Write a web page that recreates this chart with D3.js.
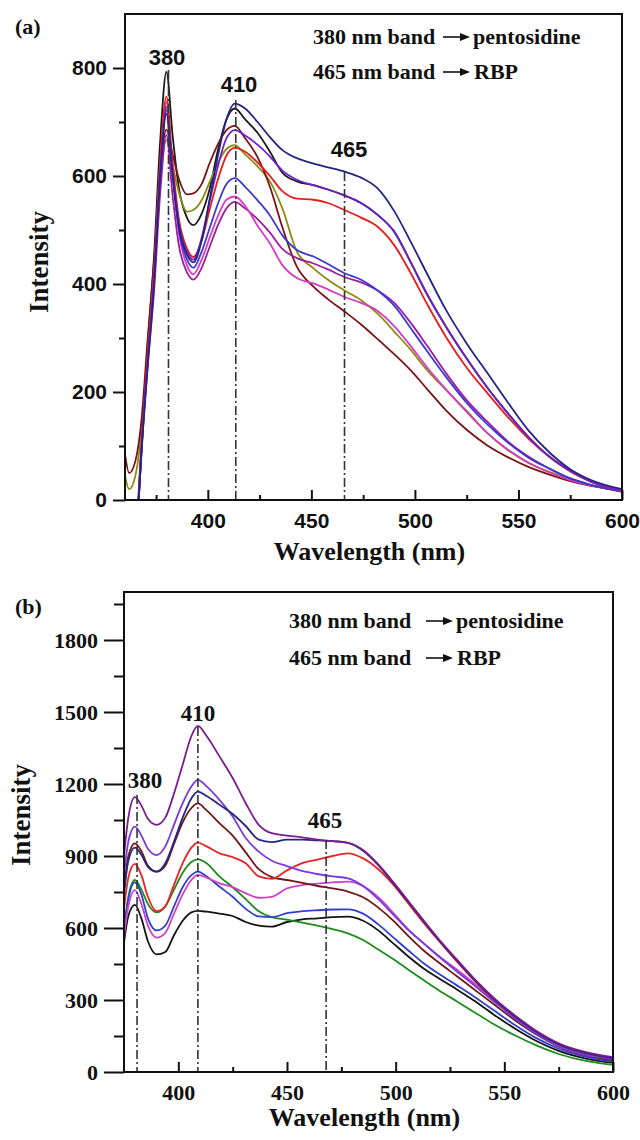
<!DOCTYPE html>
<html><head><meta charset="utf-8">
<script src="https://cdn.jsdelivr.net/npm/d3@7"></script>
<style>
html,body{margin:0;padding:0;background:#fff;}
svg{display:block;}
</style></head>
<body>
<svg id="chart" width="640" height="1140"></svg>
<script>
// ---------- Panel (a) data ----------
const waveA = [360,362,365,368,371,374,377,380,383,386,390,393,397,401,405,409,413,418,424,430,436,443,451,458,466,474,482,490,498,506,515,525,535,545,555,565,575,585,600];
const aNavy   = [-900,-500,-130,90,250,400,600,715,600,506,454,440,480,560,640,705,734,725,700,672,648,633,623,616,608,597,577,535,478,418,352,290,235,180,128,88,57,37,20];
const aBlack  = [-900,-500,-120,110,290,450,665,793,675,578,522,509,530,578,650,705,725,705,680,645,606,590,583,575,564,550,528,497,440,380,321,262,208,160,116,80,54,34,17];
const aRed    = [-900,-500,-130,100,270,420,628,747,622,521,465,450,480,540,595,638,652,645,625,600,572,558,556,550,537,523,506,472,420,362,302,245,198,153,113,80,53,34,16];
const aPink   = [-900,-500,-130,95,265,415,620,737,603,495,434,418,445,487,527,556,562,545,508,475,435,411,401,390,376,365,350,322,285,245,205,163,124,93,69,51,37,27,18];
const aBlue   = [-900,-500,-130,95,262,410,612,728,603,502,445,430,460,505,550,585,596,580,555,527,490,463,451,437,420,408,388,360,318,275,228,180,140,106,78,58,40,28,15];
const aPurple = [-900,-500,-130,95,260,405,606,722,606,512,459,445,485,555,620,670,685,675,658,636,610,593,583,575,564,550,528,497,440,380,321,262,208,160,116,80,54,34,17];
const aMaroon = [85,50,72,150,300,440,608,686,640,595,566,568,585,625,660,685,693,670,635,580,505,432,395,372,349,325,298,270,240,205,166,130,101,79,61,47,35,26,17];
const aDkMag  = [-900,-500,-130,90,250,385,568,676,563,472,421,408,430,470,510,540,552,540,520,495,465,448,438,427,413,403,388,365,328,285,235,185,145,108,80,58,40,28,16];
const aOlive  = [45,20,45,130,280,420,590,667,620,570,534,537,555,590,625,650,657,640,618,590,540,460,429,408,388,370,345,312,278,240,204,165,124,92,68,52,38,27,18];
const colorsA = {navy:"#262682",black:"#1a1a1a",red:"#e81c1c",pink:"#d63cc6",blue:"#3a3ad0",purple:"#7020c8",maroon:"#7a1414",dkmag:"#a01ca0",olive:"#8c8c10"};
const yTicksA = [0,200,400,600,800];
const yMinorA = [100,300,500,700];
const xTicksA = [400,450,500,550,600];
const xMinorA = [375,425,475,525,575];
const bandsA = [381,413.5,466];

// ---------- Panel (b) data ----------
const waveB = [375,377,380,383,386,390,394,398,402,406,409,413,419,425,431,437,443,450,457,464,471,478,485,492,499,506,513,520,528,536,545,555,565,575,588,600];
const bPurple = [900,1060,1145,1110,1055,1030,1060,1160,1280,1400,1442,1400,1314,1225,1120,1030,995,985,978,968,962,955,925,865,790,710,630,552,470,390,310,235,170,120,82,62];
const bNavy   = [740,880,935,905,855,835,870,960,1060,1140,1168,1150,1113,1075,1025,968,958,968,968,965,962,955,922,862,786,706,626,548,466,386,306,231,166,116,78,58];
const bViolet = [820,960,1022,985,930,904,940,1030,1120,1190,1217,1190,1133,1065,975,918,880,858,838,825,815,807,775,720,655,590,535,480,420,362,295,222,158,108,70,54];
const bMaroon = [760,900,953,920,860,835,860,950,1040,1100,1119,1090,1036,985,915,845,812,800,788,775,765,752,728,685,630,565,505,455,400,345,283,215,155,106,68,49];
const bRed    = [680,810,867,820,730,670,690,780,870,935,956,940,911,895,870,815,805,840,870,885,900,911,890,845,780,700,620,545,462,383,303,228,164,114,75,55];
const bGreen  = [600,730,800,760,700,665,690,760,830,875,886,870,814,770,720,670,645,635,622,610,595,578,550,510,470,425,382,340,295,250,200,152,110,75,45,30];
const bBlue   = [590,720,790,740,640,590,610,690,770,820,835,815,772,730,680,648,645,662,670,674,677,678,660,615,560,505,452,408,362,315,258,195,140,97,62,43];
const bPink   = [560,690,758,700,610,560,580,660,740,800,821,810,786,770,745,726,730,765,779,785,790,793,775,728,662,592,535,482,428,370,300,226,162,112,74,56];
const bBlack  = [540,650,696,640,545,490,500,570,630,665,671,668,660,650,625,610,606,625,636,640,645,647,630,590,535,480,430,390,345,298,240,180,128,88,55,38];
const colorsB = {purple:"#7b1c8c",navy:"#262688",violet:"#7a3ad8",maroon:"#701818",red:"#e82424",green:"#1e8c1e",blue:"#3040d0",pink:"#d040c8",black:"#141414"};
const yTicksB = [0,300,600,900,1200,1500,1800];
const yMinorB = [150,450,750,1050,1350,1650,1950];
const xTicksB = [400,450,500,550,600];
const xMinorB = [425,475,525,575];
const bandsB = [381,409,468];

const SANS = "'Liberation Sans', Arial, sans-serif";
const SERIF = "'Liberation Serif', 'Times New Roman', serif";

const svg = d3.select("#chart");
svg.append("rect").attr("width",640).attr("height",1140).attr("fill","#fff");

function panel(cfg){
  const g = svg.append("g");
  const x = d3.scaleLinear().domain(cfg.xDomain).range([cfg.left, cfg.right]);
  const y = d3.scaleLinear().domain(cfg.yDomain).range([cfg.bottom, cfg.top]);
  const clipId = "clip" + cfg.id;
  svg.append("clipPath").attr("id", clipId).append("rect")
    .attr("x", cfg.left).attr("y", cfg.top)
    .attr("width", cfg.right - cfg.left).attr("height", cfg.bottom - cfg.top);

  // curves
  const line = d3.line().x(d => x(d[0])).y(d => y(d[1])).curve(d3.curveMonotoneX);
  const cg = g.append("g").attr("clip-path", `url(#${clipId})`);
  cfg.series.forEach(s => {
    cg.append("path").datum(cfg.wave.map((w, k) => [w, s.v[k]]))
      .attr("d", line).attr("fill","none")
      .attr("stroke", s.c).attr("stroke-width", 1.8)
      .attr("stroke-linejoin","round");
  });

  // dash-dot band lines
  cfg.bands.forEach((b, i) => {
    g.append("line").attr("x1", x(b)).attr("x2", x(b))
      .attr("y1", cfg.bandTop[i]).attr("y2", cfg.bottom)
      .attr("stroke","#333").attr("stroke-width",1.6)
      .attr("stroke-dasharray","9,3,2,3");
  });

  // axes
  const yAx = g.append("g").attr("transform",`translate(${cfg.left},0)`)
    .call(d3.axisLeft(y).tickValues(cfg.yTicks).tickSize(cfg.yTickLen).tickPadding(cfg.yPad).tickFormat(d3.format("d")));
  yAx.select(".domain").remove();
  yAx.selectAll("line").attr("stroke","#111").attr("stroke-width",2);
  yAx.selectAll("text").attr("font-family", cfg.tickFont).attr("font-weight","bold")
    .attr("font-size", cfg.tickSize).attr("fill","#111");
  const yMin = g.append("g").attr("transform",`translate(${cfg.left},0)`)
    .call(d3.axisLeft(y).tickValues(cfg.yMinor).tickSize(cfg.yTickLen/2).tickFormat(""));
  yMin.select(".domain").remove();
  yMin.selectAll("line").attr("stroke","#111").attr("stroke-width",2);

  const xAx = g.append("g").attr("transform",`translate(0,${cfg.bottom})`)
    .call(d3.axisBottom(x).tickValues(cfg.xTicks).tickSizeInner(-10).tickSizeOuter(0).tickPadding(cfg.xPad).tickFormat(d3.format("d")));
  xAx.select(".domain").remove();
  xAx.selectAll("line").attr("stroke","#111").attr("stroke-width",2);
  xAx.selectAll("text").attr("font-family", cfg.tickFont).attr("font-weight","bold")
    .attr("font-size", cfg.tickSize).attr("fill","#111");
  const xMin = g.append("g").attr("transform",`translate(0,${cfg.bottom})`)
    .call(d3.axisBottom(x).tickValues(cfg.xMinor).tickSizeInner(-5).tickSizeOuter(0).tickFormat(""));
  xMin.select(".domain").remove();
  xMin.selectAll("line").attr("stroke","#111").attr("stroke-width",2);

  // frame
  g.append("rect").attr("x", cfg.left).attr("y", cfg.top)
    .attr("width", cfg.right - cfg.left).attr("height", cfg.bottom - cfg.top)
    .attr("fill","none").attr("stroke","#111").attr("stroke-width",2);

  // peak labels
  cfg.peakLabels.forEach(p => {
    g.append("text").attr("x", p.x).attr("y", p.y).attr("text-anchor","middle")
      .attr("font-family", cfg.peakFont).attr("font-weight","bold").attr("font-size", cfg.peakSize)
      .attr("fill","#111").text(p.t);
  });

  // legend notes
  cfg.notes.forEach(n => {
    g.append("text").attr("x", n.x).attr("y", n.y)
      .attr("font-family", SERIF).attr("font-weight","bold").attr("font-size", 22)
      .attr("fill","#111").text(n.a);
    const ay = n.y - 7;
    g.append("line").attr("x1", n.ax1).attr("x2", n.ax2 - 8).attr("y1", ay).attr("y2", ay)
      .attr("stroke","#111").attr("stroke-width",1.6);
    g.append("path").attr("d", `M${n.ax2},${ay} L${n.ax2-10},${ay-4} L${n.ax2-10},${ay+4} Z`).attr("fill","#111");
    g.append("text").attr("x", n.bx).attr("y", n.y)
      .attr("font-family", SERIF).attr("font-weight","bold").attr("font-size", 22)
      .attr("fill","#111").text(n.b);
  });

  // panel letter
  g.append("text").attr("x", cfg.letter.x).attr("y", cfg.letter.y)
    .attr("font-family", SERIF).attr("font-weight","bold").attr("font-size", 22)
    .attr("fill","#111").text(cfg.letter.t);

  // axis titles
  g.append("text").attr("x", (cfg.left + cfg.right)/2 - 4).attr("y", cfg.xTitleY)
    .attr("text-anchor","middle").attr("font-family", SERIF).attr("font-weight","bold")
    .attr("font-size", 26).attr("fill","#111").text("Wavelength (nm)");
  g.append("text").attr("transform",`translate(${cfg.yTitleX},${cfg.yTitleY}) rotate(-90)`)
    .attr("text-anchor","middle").attr("font-family", SERIF).attr("font-weight","bold")
    .attr("font-size", 27).attr("fill","#111").text("Intensity");
}

panel({
  id:"a", left:125, right:622, top:14, bottom:500,
  xDomain:[360,600], yDomain:[0,900],
  wave: waveA,
  series:[
    {v:aBlack,c:colorsA.black},{v:aOlive,c:colorsA.olive},{v:aMaroon,c:colorsA.maroon},
    {v:aDkMag,c:colorsA.dkmag},{v:aPink,c:colorsA.pink},{v:aBlue,c:colorsA.blue},
    {v:aRed,c:colorsA.red},{v:aPurple,c:colorsA.purple},{v:aNavy,c:colorsA.navy}],
  bands: bandsA, bandTop:[70,100,172],
  yTicks:yTicksA, yMinor:yMinorA, xTicks:xTicksA, xMinor:xMinorA,
  yTickLen:12, yPad:6, xPad:13,
  tickFont: SANS, tickSize: 21,
  peakFont: SANS, peakSize: 22,
  peakLabels:[{x:167,y:65,t:"380"},{x:239,y:92,t:"410"},{x:349,y:157,t:"465"}],
  notes:[{x:313,y:44,a:"380 nm band",ax1:443,ax2:470,bx:473,b:"pentosidine"},
         {x:313,y:79,a:"465 nm band",ax1:443,ax2:470,bx:474,b:"RBP"}],
  letter:{x:15,y:34,t:"(a)"},
  xTitleY:560, yTitleX:48, yTitleY:262
});

panel({
  id:"b", left:124, right:613, top:592, bottom:1072,
  xDomain:[375,600], yDomain:[0,2000],
  wave: waveB,
  series:[
    {v:bBlack,c:colorsB.black},{v:bGreen,c:colorsB.green},{v:bBlue,c:colorsB.blue},
    {v:bPink,c:colorsB.pink},{v:bMaroon,c:colorsB.maroon},{v:bRed,c:colorsB.red},
    {v:bViolet,c:colorsB.violet},{v:bNavy,c:colorsB.navy},{v:bPurple,c:colorsB.purple}],
  bands: bandsB, bandTop:[795,727,840],
  yTicks:yTicksB, yMinor:yMinorB, xTicks:xTicksB, xMinor:xMinorB,
  yTickLen:20, yPad:6, xPad:12,
  tickFont: SERIF, tickSize: 22,
  peakFont: SERIF, peakSize: 23,
  peakLabels:[{x:145,y:788,t:"380"},{x:198,y:721,t:"410"},{x:325,y:828,t:"465"}],
  notes:[{x:289,y:628,a:"380 nm band",ax1:426,ax2:453,bx:456,b:"pentosidine"},
         {x:289,y:665,a:"465 nm band",ax1:426,ax2:453,bx:457,b:"RBP"}],
  letter:{x:15,y:614,t:"(b)"},
  xTitleY:1126, yTitleX:30, yTitleY:815
});
</script>
</body></html>
